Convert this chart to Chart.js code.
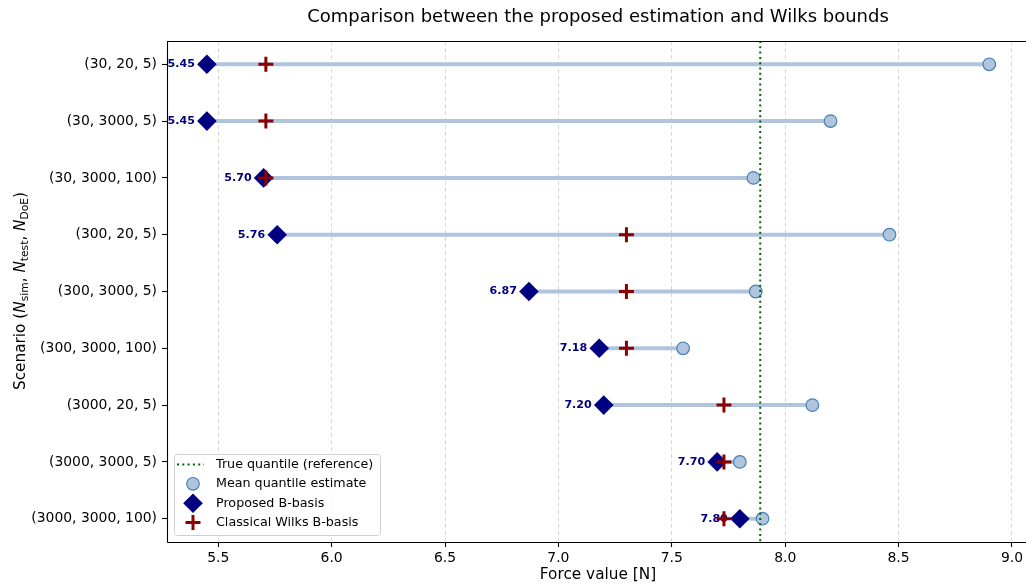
<!DOCTYPE html>
<html>
<head>
<meta charset="utf-8">
<script src="https://cdn.jsdelivr.net/npm/chart.js@4/dist/chart.umd.min.js"></script>
<style>
  html, body { margin: 0; padding: 0; background: #fff; }
  #wrap { width: 1026px; height: 584px; }
</style>
</head>
<body>
<div id="wrap"><canvas id="chart" width="1026" height="584"></canvas></div>
<script>
const scenarios = [
  '(30, 20, 5)', '(30, 3000, 5)', '(30, 3000, 100)',
  '(300, 20, 5)', '(300, 3000, 5)', '(300, 3000, 100)',
  '(3000, 20, 5)', '(3000, 3000, 5)', '(3000, 3000, 100)',
];
const proposedBasis = [5.45, 5.45, 5.70, 5.76, 6.87, 7.18, 7.20, 7.70, 7.80];
const wilksBasis = [5.71, 5.71, 5.71, 7.30, 7.30, 7.30, 7.73, 7.73, 7.73];
const meanEstimate = [8.90, 8.20, 7.86, 8.46, 7.87, 7.55, 8.12, 7.80, 7.90];
const trueQuantile = 7.89;
const xTicks = [5.5, 6.0, 6.5, 7.0, 7.5, 8.0, 8.5, 9.0];

const FONT = "'DejaVu Sans', 'Liberation Sans', sans-serif";
const NAVY = '#000080';
const DARKRED = '#8B0000';
const GREEN = '#006400';
const STEEL = '#4682B4';
const LIGHTSTEEL = '#B0C4DE';

const segmentSets = scenarios.map((name, i) => ({
  label: 'seg ' + name,
  data: [{ x: proposedBasis[i], y: i }, { x: meanEstimate[i], y: i }],
  showLine: true,
  borderColor: LIGHTSTEEL,
  borderWidth: 4,
  pointRadius: 0,
  order: 5,
}));

const datasets = [
  ...segmentSets,
  {
    label: 'Mean quantile estimate',
    data: meanEstimate.map((v, i) => ({ x: v, y: i })),
    pointStyle: 'circle',
    pointRadius: 6.3,
    backgroundColor: LIGHTSTEEL,
    borderColor: STEEL,
    borderWidth: 1.2,
    order: 3,
  },
  {
    label: 'True quantile (reference)',
    data: [{ x: trueQuantile, y: -0.41 }, { x: trueQuantile, y: 8.41 }],
    showLine: true,
    borderColor: GREEN,
    borderWidth: 2,
    borderDash: [2, 3.3],
    pointRadius: 0,
    order: 2,
  },
  {
    label: 'Proposed B-basis',
    data: proposedBasis.map((v, i) => ({ x: v, y: i })),
    pointStyle: 'rectRot',
    pointRadius: 9.8,
    backgroundColor: NAVY,
    borderColor: NAVY,
    borderWidth: 0,
    order: 1,
  },
  {
    label: 'Classical Wilks B-basis',
    data: wilksBasis.map((v, i) => ({ x: v, y: i })),
    pointStyle: 'cross',
    pointRadius: 7.5,
    borderColor: DARKRED,
    borderWidth: 3,
    order: 0,
  },
];
const wilksIndex = datasets.length - 1;

const extras = {
  id: 'extras',
  beforeDatasetDraw(chart, args) {
    if (args.index !== wilksIndex) return;
    // value labels left of the diamonds
    const ctx = chart.ctx;
    const xs = chart.scales.x, ys = chart.scales.y;
    ctx.save();
    ctx.font = `bold 11.1px ${FONT}`;
    ctx.fillStyle = NAVY;
    ctx.textAlign = 'right';
    ctx.textBaseline = 'middle';
    proposedBasis.forEach((v, i) => {
      ctx.fillText(v.toFixed(2), xs.getPixelForValue(v) - 12, ys.getPixelForValue(i));
    });
    ctx.restore();
  },
  afterDraw(chart) {
    const ctx = chart.ctx;
    const a = chart.chartArea;
    ctx.save();

    // axes frame
    ctx.strokeStyle = '#000';
    ctx.lineWidth = 1.1;
    ctx.beginPath();
    ctx.moveTo(Math.round(a.left) + 0.5, Math.round(a.bottom) + 0.5);
    ctx.lineTo(Math.round(a.left) + 0.5, Math.round(a.top) + 0.5);
    ctx.lineTo(a.right + 2, Math.round(a.top) + 0.5);
    ctx.moveTo(Math.round(a.left) + 0.5, Math.round(a.bottom) + 0.5);
    ctx.lineTo(a.right + 2, Math.round(a.bottom) + 0.5);
    ctx.stroke();

    // title
    ctx.fillStyle = '#000';
    ctx.textAlign = 'center';
    ctx.textBaseline = 'middle';
    ctx.font = `18px ${FONT}`;
    ctx.fillText('Comparison between the proposed estimation and Wilks bounds', 598, 17);

    // x label
    ctx.font = `15.3px ${FONT}`;
    ctx.fillText('Force value [N]', 598, 575);

    // y label with subscripts, rotated
    const parts = [
      ['Scenario (', 'n'], ['N', 'i'], ['sim', 's'], [', ', 'n'],
      ['N', 'i'], ['test', 's'], [', ', 'n'], ['N', 'i'], ['DoE', 's'], [')', 'n'],
    ];
    const fontFor = (k) => k === 'i' ? `italic 15.3px ${FONT}` : k === 's' ? `10.7px ${FONT}` : `15.3px ${FONT}`;
    let total = 0;
    parts.forEach(([t, k]) => { ctx.font = fontFor(k); total += ctx.measureText(t).width; });
    ctx.translate(19, 291);
    ctx.rotate(-Math.PI / 2);
    ctx.textAlign = 'left';
    ctx.textBaseline = 'alphabetic';
    let px = -total / 2;
    parts.forEach(([t, k]) => {
      ctx.font = fontFor(k);
      ctx.fillText(t, px, k === 's' ? 8.5 : 5.5);
      px += ctx.measureText(t).width;
    });
    ctx.setTransform(1, 0, 0, 1, 0, 0);

    // legend
    const bx = 174.5, by = 454.5, bw = 206, bh = 81, r = 3;
    ctx.beginPath();
    ctx.moveTo(bx + r, by);
    ctx.arcTo(bx + bw, by, bx + bw, by + bh, r);
    ctx.arcTo(bx + bw, by + bh, bx, by + bh, r);
    ctx.arcTo(bx, by + bh, bx, by, r);
    ctx.arcTo(bx, by, bx + bw, by, r);
    ctx.closePath();
    ctx.fillStyle = 'rgba(255,255,255,0.8)';
    ctx.fill();
    ctx.strokeStyle = '#d0d0d0';
    ctx.lineWidth = 1;
    ctx.stroke();

    const rowsY = [464.5, 483.8, 503.2, 522.6];
    const hx = 193;
    // dotted line handle
    ctx.strokeStyle = GREEN;
    ctx.lineWidth = 2;
    ctx.setLineDash([2, 3.3]);
    ctx.beginPath();
    ctx.moveTo(177, rowsY[0]);
    ctx.lineTo(204, rowsY[0]);
    ctx.stroke();
    ctx.setLineDash([]);

    const draw = Chart.helpers.drawPoint;
    ctx.fillStyle = LIGHTSTEEL; ctx.strokeStyle = STEEL; ctx.lineWidth = 1.2;
    draw(ctx, { pointStyle: 'circle', radius: 6.3, borderWidth: 1.2 }, hx, rowsY[1]);
    ctx.fillStyle = NAVY; ctx.strokeStyle = NAVY; ctx.lineWidth = 0.01;
    draw(ctx, { pointStyle: 'rectRot', radius: 9.8, borderWidth: 0 }, hx, rowsY[2]);
    ctx.strokeStyle = DARKRED; ctx.lineWidth = 3;
    draw(ctx, { pointStyle: 'cross', radius: 7.5, borderWidth: 3 }, hx, rowsY[3]);

    const names = ['True quantile (reference)', 'Mean quantile estimate', 'Proposed B-basis', 'Classical Wilks B-basis'];
    ctx.fillStyle = '#000';
    ctx.font = `12.7px ${FONT}`;
    ctx.textAlign = 'left';
    ctx.textBaseline = 'middle';
    names.forEach((n, i) => ctx.fillText(n, 216, rowsY[i]));

    ctx.restore();
  },
};

new Chart(document.getElementById('chart'), {
  type: 'scatter',
  data: { datasets },
  options: {
    responsive: false,
    devicePixelRatio: 1,
    animation: false,
    events: [],
    layout: { autoPadding: false, padding: { top: 41, right: 0, bottom: 0, left: 0 } },
    plugins: { legend: { display: false }, tooltip: { enabled: false }, title: { display: false } },
    scales: {
      x: {
        type: 'linear',
        min: 5.274,
        max: 9.062,
        afterFit: (scale) => {
          scale.height = 42;
          scale.paddingLeft = 0;
          scale.paddingRight = 0;
        },
        afterBuildTicks: (scale) => { scale.ticks = xTicks.map((v) => ({ value: v })); },
        ticks: {
          font: { family: FONT, size: 13.9 },
          color: '#000',
          padding: 3,
          maxRotation: 0,
          callback: (v) => Number(v).toFixed(1),
        },
        grid: {
          color: '#d8d8d8',
          lineWidth: 1,
          borderDash: [4, 3],
          tickLength: 5,
          tickColor: '#000',
          tickWidth: 1.1,
          tickBorderDash: [],
        },
        border: { display: false, dash: [4, 3] },
      },
      y: {
        type: 'linear',
        reverse: true,
        min: -0.41,
        max: 8.41,
        afterFit: (scale) => {
          scale.width = 167;
          scale.paddingTop = 0;
          scale.paddingBottom = 0;
        },
        afterBuildTicks: (scale) => { scale.ticks = scenarios.map((_, i) => ({ value: i })); },
        ticks: {
          font: { family: FONT, size: 13.9 },
          color: '#000',
          padding: 5,
          callback: (v) => scenarios[Math.round(v)] || '',
        },
        grid: {
          drawOnChartArea: false,
          tickLength: 5,
          tickColor: '#000',
          tickWidth: 1.1,
        },
        border: { display: false },
      },
    },
  },
  plugins: [extras],
});
</script>
</body>
</html>
